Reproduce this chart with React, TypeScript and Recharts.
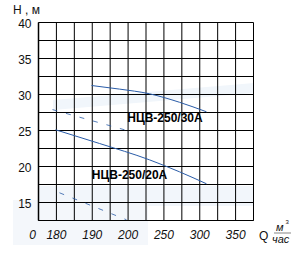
import React from 'react';
import { ComposedChart, Line, XAxis, YAxis, CartesianGrid, ReferenceDot } from 'recharts';

// Grid positions along the (non-uniform) Q axis: 0..12 gridlines
const xGridTicks = [0, 1, 2, 3, 4, 5, 6, 7, 8, 9, 10, 11, 12];
const xTickPositions = [0, 1, 3, 5, 7, 9, 11];
const xTickTexts = ['0', '180', '190', '200', '250', '300', '350'];

const yGridTicks = [12.5, 15, 17.5, 20, 22.5, 25, 27.5, 30, 32.5, 35, 37.5, 40];
const yTickLabels = [15, 20, 25, 30, 35, 40];

// Pump curves (x = axis grid position, h = head, m)
const curve30A = [
  { x: 2.96, h: 31.25 },
  { x: 4.52, h: 30.75 },
  { x: 6.19, h: 30.1 },
  { x: 7.87, h: 28.92 },
  { x: 9.375, h: 27.6 },
];
const curve20A = [
  { x: 0.95, h: 25.1 },
  { x: 3.4, h: 23.2 },
  { x: 6.19, h: 20.93 },
  { x: 7.87, h: 19.26 },
  { x: 9.375, h: 17.6 },
];
const dashed30A = [
  { x: 0.78, h: 27.9 },
  { x: 4.8, h: 25.1 },
];
const dashed20A = [
  { x: 1.17, h: 16.35 },
  { x: 4.91, h: 12.6 },
];

const seriesLabels = [
  { name: 'НЦВ-250/30А', x: 7.06, h: 26.72 },
  { name: 'НЦВ-250/20А', x: 5.08, h: 18.85 },
];

const FONT = '"Liberation Sans", Arial, sans-serif';
const LINE_COLOR = '#2a5ca8';

const XTick = (props: any) => {
  const { x, y, payload } = props;
  const i = xTickPositions.indexOf(payload.value);
  if (i < 0) return null;
  const dx = payload.value === 0 ? -6 : 0;
  return (
    <text
      x={x + dx}
      y={y}
      dy="0.71em"
      textAnchor="middle"
      fontStyle="italic"
      fontSize={12}
      fontFamily={FONT}
      fill="#111"
    >
      {xTickTexts[i]}
    </text>
  );
};

const YTick = (props: any) => {
  const { x, y, payload } = props;
  if (!yTickLabels.includes(payload.value)) return null;
  return (
    <text x={x} y={y + 1} dy="0.355em" textAnchor="end" fontSize={12} fontFamily={FONT} fill="#111">
      {payload.value}
    </text>
  );
};

const makeLabelShape = (text: string) => (props: any) => {
  const { cx, cy } = props;
  return (
    <text
      x={cx}
      y={cy}
      dy="0.355em"
      textAnchor="middle"
      fontSize={12}
      fontWeight="bold"
      fontFamily={FONT}
      fill="#000"
    >
      {text}
    </text>
  );
};

export default function App() {
  return (
    <div style={{ position: 'absolute', left: 0, top: 0, width: 301, height: 262, background: '#fff' }}>
      {/* faint scan haze behind the chart */}
      <svg width={301} height={262} style={{ position: 'absolute', left: 0, top: 0 }}>
        <polygon points="53,100 254,83 254,93 53,110" fill="#f1f6fb" />
        <rect x={39} y={186} width={215} height={20} fill="#f2f6fb" />
        <rect x={13} y={200} width={135} height={45} fill="#f4f7fb" />
      </svg>
      <div style={{ position: 'absolute', left: 0, top: 0 }}>
        <ComposedChart
          width={301}
          height={262}
          margin={{ top: 22.5, right: 47.5, bottom: 21.5, left: 0 }}
        >
          <CartesianGrid stroke="#000" strokeWidth={1} />
          <XAxis
            type="number"
            dataKey="x"
            domain={[0, 12]}
            ticks={xGridTicks}
            interval={0}
            allowDataOverflow
            height={20}
            tickSize={0}
            tickMargin={10}
            tick={<XTick />}
            axisLine={{ stroke: '#000', strokeWidth: 1 }}
            tickLine={false}
          />
          <YAxis
            type="number"
            dataKey="h"
            domain={[12.5, 40]}
            ticks={yGridTicks}
            interval={0}
            allowDataOverflow
            width={38.5}
            tickSize={0}
            tickMargin={7}
            tick={<YTick />}
            axisLine={{ stroke: '#000', strokeWidth: 1.5 }}
            tickLine={false}
          />
          <Line
            data={dashed30A}
            dataKey="h"
            type="linear"
            stroke={LINE_COLOR}
            strokeWidth={1}
            strokeDasharray="5 9"
            strokeOpacity={0.8}
            dot={false}
            isAnimationActive={false}
          />
          <Line
            data={dashed20A}
            dataKey="h"
            type="linear"
            stroke={LINE_COLOR}
            strokeWidth={1}
            strokeDasharray="5 9"
            strokeOpacity={0.8}
            dot={false}
            isAnimationActive={false}
          />
          <Line
            data={curve30A}
            dataKey="h"
            type="monotone"
            stroke={LINE_COLOR}
            strokeWidth={1}
            dot={false}
            isAnimationActive={false}
          />
          <Line
            data={curve20A}
            dataKey="h"
            type="monotone"
            stroke={LINE_COLOR}
            strokeWidth={1}
            dot={false}
            isAnimationActive={false}
          />
          {seriesLabels.map((s) => (
            <ReferenceDot
              key={s.name}
              x={s.x}
              y={s.h}
              r={0}
              ifOverflow="visible"
              shape={makeLabelShape(s.name)}
            />
          ))}
        </ComposedChart>
      </div>
      {/* axis titles */}
      <svg width={301} height={262} style={{ position: 'absolute', left: 0, top: 0, pointerEvents: 'none' }}>
        <text x={13} y={13.5} fontSize={12} fontFamily={FONT} fill="#111">
          Н , м
        </text>
        <text x={259} y={239.5} fontSize={12} fontFamily={FONT} fill="#111">
          Q
        </text>
        <text x={276} y={231} fontSize={11} fontStyle="italic" fontFamily={FONT} fill="#111">
          м
        </text>
        <text x={285.5} y={224} fontSize={6} fontFamily={FONT} fill="#111">
          3
        </text>
        <line x1={274} y1={233} x2={291} y2={233} stroke="#555" strokeWidth={0.7} />
        <text x={272} y={242.5} fontSize={11} fontStyle="italic" fontFamily={FONT} fill="#111">
          час
        </text>
      </svg>
    </div>
  );
}
